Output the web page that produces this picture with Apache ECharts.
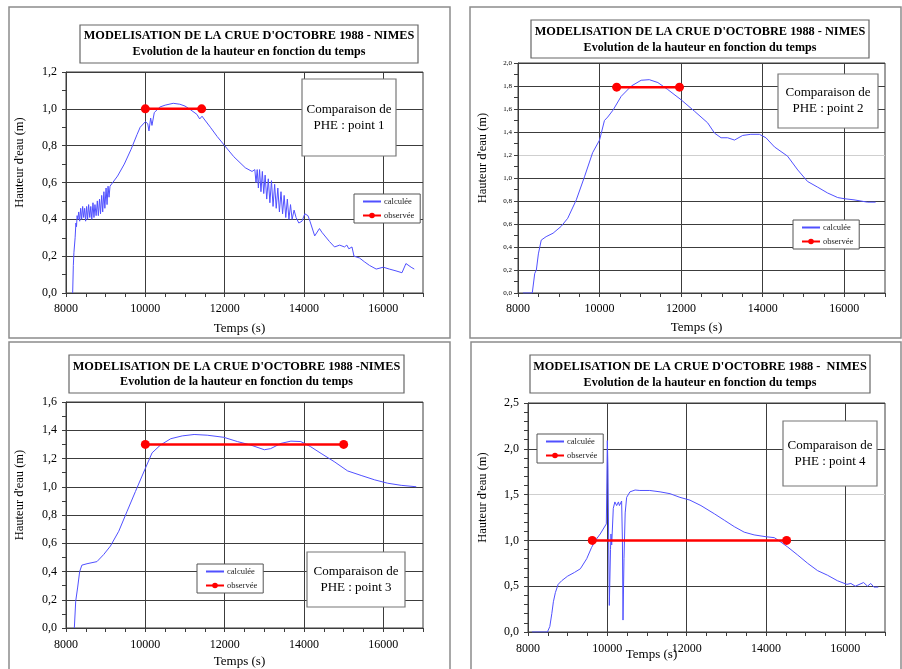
<!DOCTYPE html>
<html><head><meta charset="utf-8">
<script src="https://cdn.jsdelivr.net/npm/echarts@6/dist/echarts.min.js"></script>
<style>html,body{margin:0;padding:0;background:#fff;}#c{width:902px;height:669px;}</style>
</head><body><div id="c"></div>
<script>
// ---------- DATA ----------
const legendNames = ['calculée', 'observée'];
const xTickValues = [8000, 10000, 12000, 14000, 16000];

// Panel 1 (point 1)
const p1Time = [8168,8185,8200,8230,8250,8265,8280,8300,8320,8345,8370,8395,8420,8445,8470,8495,8520,8545,8570,8600,8625,8650,8680,8705,8730,8760,8790,8815,8845,8870,8900,8925,8955,8980,9010,9035,9060,9085,9110,9130,9300,9470,9640,9790,9870,10000,10060,10092,10134,10167,10226,10368,10500,10703,10870,11000,11140,11300,11370,11430,11480,11640,11810,12000,12230,12520,12690,12760,12790,12820,12850,12880,12915,12950,12985,13020,13060,13100,13140,13180,13220,13260,13300,13340,13380,13420,13460,13500,13540,13580,13620,13660,13700,13750,13800,13870,13950,14020,14100,14150,14270,14390,14450,14640,14770,14900,15020,15080,15130,15210,15260,15400,15520,15650,15820,16000,16150,16320,16470,16570,16700,16780];
const p1Height = [0,0.15,0.22,0.30,0.38,0.36,0.42,0.40,0.44,0.39,0.46,0.40,0.47,0.41,0.46,0.39,0.47,0.40,0.48,0.41,0.47,0.40,0.49,0.41,0.48,0.42,0.50,0.42,0.51,0.43,0.53,0.44,0.55,0.46,0.57,0.48,0.58,0.52,0.58,0.57,0.635,0.70,0.78,0.86,0.90,0.93,0.92,0.88,0.95,0.91,0.98,1.01,1.02,1.03,1.025,1.015,0.995,0.97,0.945,0.96,0.945,0.90,0.85,0.80,0.74,0.68,0.66,0.67,0.60,0.67,0.57,0.67,0.55,0.66,0.54,0.64,0.51,0.62,0.49,0.61,0.47,0.59,0.46,0.57,0.44,0.55,0.43,0.53,0.41,0.51,0.40,0.48,0.40,0.45,0.41,0.38,0.39,0.43,0.42,0.39,0.31,0.35,0.33,0.28,0.25,0.26,0.25,0.26,0.24,0.25,0.20,0.19,0.17,0.15,0.13,0.14,0.13,0.12,0.11,0.16,0.14,0.13];
const obs1Time = [10000, 11420];
const obs1Height = [1.0, 1.0];

// Panel 2 (point 2)
const p2Time = [8120,8350,8410,8450,8500,8570,8690,8860,9060,9220,9430,9630,9830,10000,10120,10200,10330,10530,10780,11020,11220,11430,11670,12000,12330,12650,12820,12980,13140,13310,13510,13710,13920,14080,14290,14450,14610,14860,15100,15350,15590,15840,16000,16240,16570,16770];
const p2Height = [0,0,0.17,0.20,0.34,0.46,0.49,0.52,0.58,0.65,0.81,1.01,1.22,1.33,1.50,1.53,1.59,1.71,1.80,1.85,1.855,1.83,1.77,1.68,1.58,1.48,1.39,1.35,1.35,1.33,1.37,1.38,1.38,1.35,1.27,1.23,1.19,1.07,0.97,0.92,0.87,0.83,0.82,0.81,0.79,0.79];
const obs2Time = [10420, 11960];
const obs2Height = [1.79, 1.79];

// Panel 3 (point 3)
const p3Time = [8210,8245,8295,8345,8400,8530,8780,8950,9120,9330,9540,9750,10000,10170,10380,10640,10930,11230,11560,11980,12320,12660,13000,13160,13420,13670,13920,14170,14430,14760,15100,15440,15780,16110,16450,16830];
const p3Height = [0,0.19,0.29,0.40,0.445,0.455,0.47,0.52,0.58,0.685,0.826,0.966,1.13,1.24,1.295,1.34,1.36,1.37,1.365,1.35,1.32,1.295,1.262,1.27,1.307,1.323,1.32,1.283,1.236,1.178,1.112,1.08,1.049,1.025,1.01,1.0];
const obs3Time = [10000, 15000];
const obs3Height = [1.3, 1.3];

// Panel 4 (point 4)
const p4Time = [8100,8490,8550,8600,8640,8690,8760,8850,9000,9170,9320,9480,9600,9700,9820,9975,10000,10015,10050,10080,10092,10110,10150,10190,10235,10280,10305,10360,10380,10395,10420,10450,10487,10570,10610,10700,10820,11070,11330,11580,11830,12080,12360,12700,12950,13200,13450,13700,14000,14210,14380,14540,14800,15050,15300,15550,15800,16040,16140,16250,16460,16560,16640,16720,16830];
const p4Height = [0,0,0.06,0.20,0.33,0.43,0.52,0.56,0.61,0.65,0.69,0.80,0.92,1.0,1.07,1.18,2.09,1.80,0.29,0.90,1.07,0.95,1.35,1.42,1.38,1.42,1.38,1.43,1.0,0.13,0.80,1.30,1.47,1.53,1.51,1.55,1.545,1.545,1.53,1.51,1.47,1.44,1.38,1.29,1.22,1.15,1.09,1.06,1.04,1.03,0.98,0.93,0.84,0.75,0.67,0.62,0.56,0.52,0.53,0.50,0.54,0.50,0.53,0.49,0.49];
const obs4Time = [9620, 14520];
const obs4Height = [1.0, 1.0];

const titleLine1 = ["MODELISATION DE LA CRUE D'OCTOBRE 1988 - NIMES","MODELISATION DE LA CRUE D'OCTOBRE 1988 - NIMES","MODELISATION DE LA CRUE D'OCTOBRE 1988 -NIMES","MODELISATION DE LA CRUE D'OCTOBRE 1988 -  NIMES"];
const titleLine2 = "Evolution de la hauteur en fonction du temps";
const noteTexts = ["Comparaison de\nPHE : point 1","Comparaison de\nPHE : point 2","Comparaison de\nPHE : point 3","Comparaison de\nPHE : point 4"];
const yAxisName = "Hauteur d'eau (m)";
const xAxisName = "Temps (s)";

// ---------- LAYOUT ----------
const FONT = "'Liberation Serif','Times New Roman',serif";
const GRID = '#3c3c3c', LIGHT = '#cfcfcf', T = 'rgba(0,0,0,0)';
const BLUE = '#5050ff', RED = '#ff0000';

const panels = [
  {grid:{left:66,top:72,width:357,height:221}, yMax:1.2, yInt:0.2, minor:2, yFont:12, yMargin:9, yNameGap:40,
   ySplit:[GRID], xNameGap:29, xNamePad:10, xMargin:10,
   legend:{left:354,top:194}, frame:[9,7,441,331], tbox:[80,25,338,38], tl:[36,52],
   nbox:[302,79,94,77], nc:[349,118]},
  {grid:{left:518,top:63,width:367,height:230}, yMax:2.0, yInt:0.2, minor:2, yFont:7, yMargin:6, yNameGap:29,
   ySplit:[GRID,GRID,GRID,GRID,GRID,GRID,LIGHT,GRID,GRID,GRID,GRID], xNameGap:28, xNamePad:10, xMargin:10,
   legend:{left:793,top:220}, frame:[470,7,431,331], tbox:[531,20,338,38], tl:[32,48],
   nbox:[778,74,100,54], nc:[828,101]},
  {grid:{left:66,top:402,width:357,height:227}, yMax:1.6, yInt:0.2, minor:2, yFont:12, yMargin:9, yNameGap:40,
   ySplit:[GRID], xNameGap:27, xNamePad:10, xMargin:11,
   legend:{left:197,top:564}, frame:[9,342,441,340], tbox:[69,355,335,38], tl:[367,382],
   nbox:[307,552,98,55], nc:[356,580]},
  {grid:{left:528,top:403,width:357,height:229}, yMax:2.5, yInt:0.5, minor:5, yFont:12, yMargin:9, yNameGap:39,
   ySplit:[GRID,GRID,GRID,LIGHT,GRID,GRID], xNameGap:16, xNamePad:110, xMargin:11,
   legend:{left:537,top:434}, frame:[471,342,430,340], tbox:[530,355,340,38], tl:[367,383],
   nbox:[783,421,94,65], nc:[830,454]}
];

const calcT = [p1Time,p2Time,p3Time,p4Time], calcH = [p1Height,p2Height,p3Height,p4Height];
const obsT = [obs1Time,obs2Time,obs3Time,obs4Time], obsH = [obs1Height,obs2Height,obs3Height,obs4Height];
const pairs = (t,h) => t.map((v,i)=>[v,h[i]]);

const grids=[], xAxes=[], yAxes=[], series=[], legends=[], graphics=[];
panels.forEach((p,i)=>{
  grids.push(Object.assign({show:true, borderColor:GRID, borderWidth:1, backgroundColor:'transparent', containLabel:false}, p.grid));
  xAxes.push({type:'value', gridIndex:i, min:8000, max:17000, interval:500,
    axisLine:{show:true, onZero:false, lineStyle:{color:GRID,width:1}},
    axisTick:{show:true, inside:false, length:4, lineStyle:{color:GRID}},
    axisLabel:{margin:p.xMargin, fontFamily:FONT, fontSize:12, color:'#000',
      formatter:v=> xTickValues.indexOf(v)>=0 ? String(v) : ''},
    splitLine:{show:true, lineStyle:{color:[GRID,T,T,T], width:1}},
    name:xAxisName, nameLocation:'middle', nameGap:p.xNameGap, nameMoveOverlap:false,
    nameTextStyle:{fontFamily:FONT, fontSize:13, color:'#000', padding:[0,p.xNamePad,0,0]}});
  yAxes.push({type:'value', gridIndex:i, min:0, max:p.yMax, interval:p.yInt,
    axisLine:{show:true, onZero:false, lineStyle:{color:GRID,width:1}},
    axisTick:{show:true, inside:false, length:4, lineStyle:{color:GRID}},
    minorTick:{show:true, splitNumber:p.minor, length:4, lineStyle:{color:GRID}},
    axisLabel:{margin:p.yMargin, fontFamily:FONT, fontSize:p.yFont, color:'#000',
      formatter:v=> v.toFixed(1).replace('.',',')},
    splitLine:{show:true, lineStyle:{color:p.ySplit, width:1}},
    name:yAxisName, nameLocation:'middle', nameGap:p.yNameGap, nameRotate:90, nameMoveOverlap:false,
    nameTextStyle:{fontFamily:FONT, fontSize:12.5, color:'#000', padding:[0,0,0,40]}});
  series.push({type:'line', name:legendNames[0], xAxisIndex:i, yAxisIndex:i, data:pairs(calcT[i],calcH[i]),
    symbol:'none', showSymbol:false, lineStyle:{color:BLUE,width:1}, itemStyle:{color:BLUE}, z:3});
  series.push({type:'line', name:legendNames[1], xAxisIndex:i, yAxisIndex:i, data:pairs(obsT[i],obsH[i]),
    symbol:'circle', symbolSize:9, showSymbol:true, lineStyle:{color:RED,width:2.5}, itemStyle:{color:RED}, z:4});
  legends.push({data:[{name:legendNames[0], itemStyle:{opacity:0, borderWidth:0}}, legendNames[1]],
    orient:'vertical', left:p.legend.left, top:p.legend.top,
    backgroundColor:'#fff', borderColor:'#555', borderWidth:1, padding:[3,6,3,8], itemGap:5,
    itemWidth:18, itemHeight:7, selectedMode:false,
    textStyle:{fontFamily:FONT, fontSize:8.5, color:'#222', padding:[0,0,0,-2]}});
  // outer frame
  graphics.push({type:'rect', z:0, shape:{x:p.frame[0],y:p.frame[1],width:p.frame[2],height:p.frame[3]},
    style:{fill:'none', stroke:'#8c8c8c', lineWidth:1.5}});
  // title box
  graphics.push({type:'rect', z:100, shape:{x:p.tbox[0],y:p.tbox[1],width:p.tbox[2],height:p.tbox[3]},
    style:{fill:'#fff', stroke:'#666', lineWidth:1.2}});
  const tcx = p.tbox[0]+p.tbox[2]/2;
  graphics.push({type:'text', z:101, x:tcx, y:p.tl[0], style:{text:titleLine1[i], fontFamily:FONT, fontWeight:'bold', fontSize:12.3, fill:'#000', align:'center', verticalAlign:'middle'}});
  graphics.push({type:'text', z:101, x:tcx, y:p.tl[1], style:{text:titleLine2, fontFamily:FONT, fontWeight:'bold', fontSize:12.1, fill:'#000', align:'center', verticalAlign:'middle'}});
  // note box
  graphics.push({type:'rect', z:100, shape:{x:p.nbox[0],y:p.nbox[1],width:p.nbox[2],height:p.nbox[3]},
    style:{fill:'#fff', stroke:'#777', lineWidth:1.2}});
  graphics.push({type:'text', z:101, x:p.nc[0], y:p.nc[1], style:{text:noteTexts[i], fontFamily:FONT, fontSize:13, lineHeight:16, fill:'#000', align:'center', verticalAlign:'middle'}});
});

const chart = echarts.init(document.getElementById('c'), null, {renderer:'canvas'});
chart.setOption({
  animation:false, backgroundColor:'#fff',
  grid:grids, xAxis:xAxes, yAxis:yAxes, series:series, legend:legends, graphic:graphics
});
</script></body></html>
